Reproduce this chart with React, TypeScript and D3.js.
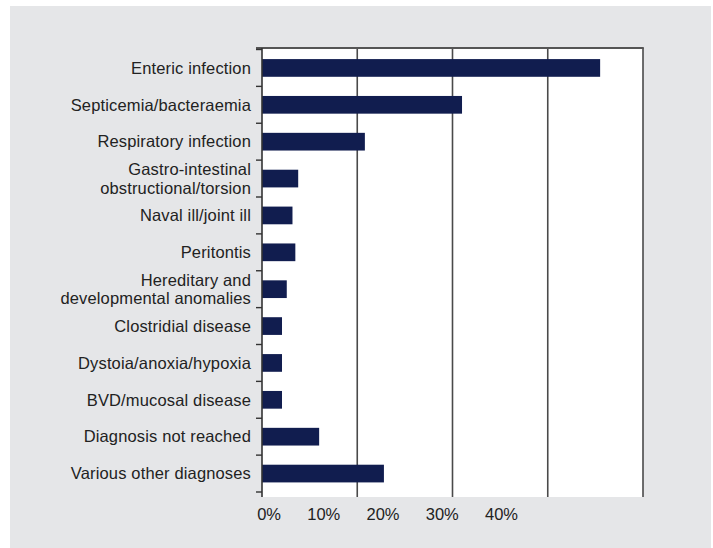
import React, { useRef, useEffect } from 'react';
import * as d3 from 'd3';

// causes of death, share of cases (%)
const causes: string[][] = [
  ['Enteric infection'],
  ['Septicemia/bacteraemia'],
  ['Respiratory infection'],
  ['Gastro-intestinal', 'obstructional/torsion'],
  ['Naval ill/joint ill'],
  ['Peritontis'],
  ['Hereditary and', 'developmental anomalies'],
  ['Clostridial disease'],
  ['Dystoia/anoxia/hypoxia'],
  ['BVD/mucosal disease'],
  ['Diagnosis not reached'],
  ['Various other diagnoses'],
];
const shares = [35.5, 21.0, 10.8, 3.8, 3.2, 3.5, 2.6, 2.1, 2.1, 2.1, 6.0, 12.8];
const gridValues = [10, 20, 30, 40];
const tickLabels = ['0%', '10%', '20%', '30%', '40%'];

const W = 713;
const H = 548;

export default function App() {
  const ref = useRef<SVGSVGElement | null>(null);

  useEffect(() => {
    if (!ref.current) return;
    const svg = d3.select(ref.current);
    svg.selectAll('*').remove();

    const plot = { left: 262, right: 643, top: 48, bottom: 497 };
    const font = '"Liberation Sans", Arial, Helvetica, sans-serif';
    const fontSize = 16.5;

    // panel background
    svg.append('rect')
      .attr('x', 10).attr('y', 6).attr('width', 701).attr('height', H - 6)
      .attr('fill', '#e5e6e8');

    svg.append('rect')
      .attr('x', plot.left).attr('y', plot.top)
      .attr('width', plot.right - plot.left).attr('height', plot.bottom - plot.top)
      .attr('fill', '#ffffff');

    const keys = causes.map(c => c.join(' '));
    const x = d3.scaleLinear().domain([0, 40]).range([plot.left, plot.right]);
    const y = d3.scaleBand<string>().domain(keys).range([49.5, 492])
      .paddingInner(0.52).paddingOuter(0.26);

    // vertical gridlines
    svg.append('g').selectAll('line')
      .data(gridValues)
      .join('line')
      .attr('x1', d => x(d)).attr('x2', d => x(d))
      .attr('y1', plot.top).attr('y2', plot.bottom)
      .attr('stroke', '#4a4a4a')
      .attr('stroke-width', 1.6);

    // top border
    svg.append('line')
      .attr('x1', plot.left - 6).attr('x2', plot.right + 0.8)
      .attr('y1', plot.top).attr('y2', plot.top)
      .attr('stroke', '#555').attr('stroke-width', 2);

    // bars
    svg.append('g').selectAll('rect')
      .data(shares)
      .join('rect')
      .attr('x', x(0))
      .attr('y', (_, i) => y(keys[i]) as number)
      .attr('width', d => x(d) - x(0))
      .attr('height', y.bandwidth())
      .attr('fill', '#111d4f');

    // y axis with boundary ticks
    svg.append('line')
      .attr('x1', plot.left).attr('x2', plot.left)
      .attr('y1', plot.top).attr('y2', plot.bottom)
      .attr('stroke', '#333').attr('stroke-width', 1.6);

    const step = y.step();
    const y0 = y.range()[0];
    svg.append('g').selectAll('line')
      .data(d3.range(keys.length + 1))
      .join('line')
      .attr('x1', plot.left - 6).attr('x2', plot.left)
      .attr('y1', i => y0 + i * step).attr('y2', i => y0 + i * step)
      .attr('stroke', '#333').attr('stroke-width', 1.4);

    // category labels
    const labels = svg.append('g')
      .attr('font-family', font).attr('font-size', fontSize).attr('fill', '#222')
      .attr('letter-spacing', 0.15)
      .attr('text-anchor', 'end');
    causes.forEach((lines, i) => {
      const cy = (y(keys[i]) as number) + y.bandwidth() / 2;
      const t = labels.append('text').attr('x', 251);
      lines.forEach((ln, j) => {
        t.append('tspan')
          .attr('x', 251)
          .attr('y', cy + (j - (lines.length - 1) / 2) * 18.5)
          .attr('dy', '0.35em')
          .text(ln);
      });
    });

    // x tick labels (as printed, offset from the gridlines)
    const lx = d3.scalePoint<string>().domain(tickLabels).range([281, 518]);
    svg.append('g')
      .attr('font-family', font).attr('font-size', fontSize).attr('fill', '#222')
      .attr('text-anchor', 'end')
      .selectAll('text')
      .data(tickLabels)
      .join('text')
      .attr('x', d => lx(d) as number)
      .attr('y', 520)
      .text(d => d);
  }, []);

  return (
    <svg
      ref={ref}
      width={W}
      height={H}
      style={{ position: 'absolute', left: 0, top: 0, background: '#fff' }}
    />
  );
}
